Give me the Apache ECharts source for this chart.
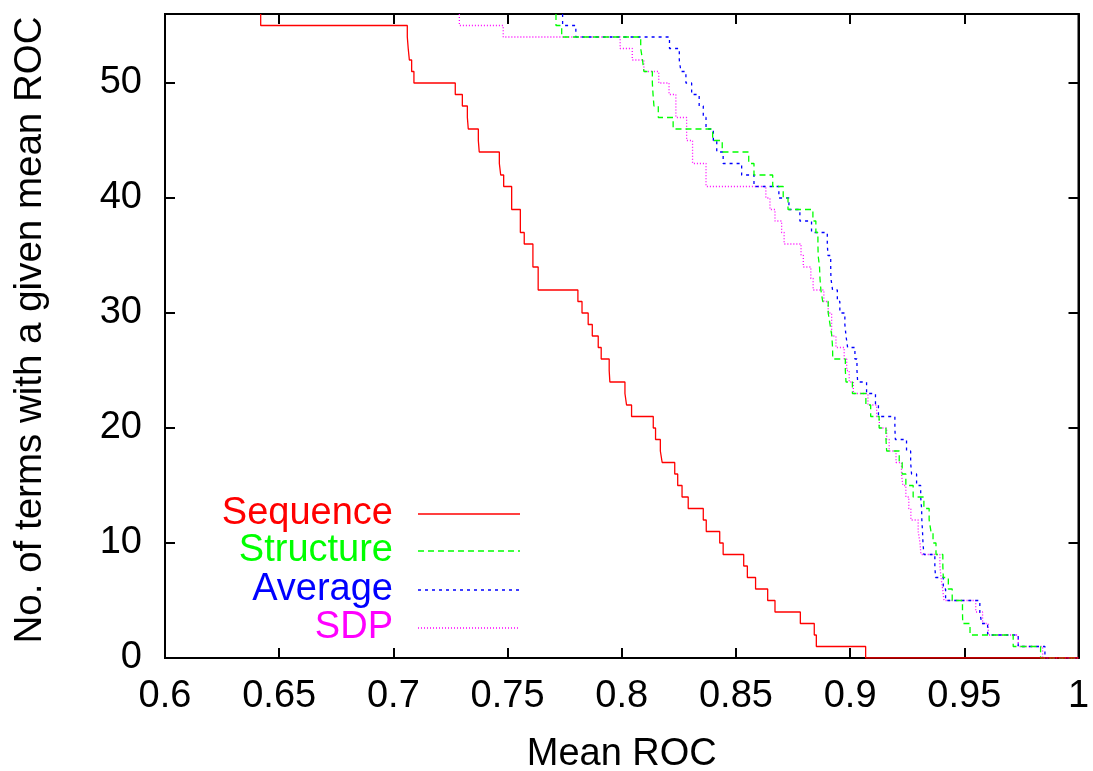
<!DOCTYPE html>
<html>
<head>
<meta charset="utf-8">
<script src="https://cdn.jsdelivr.net/npm/echarts@6/dist/echarts.min.js"></script>
<style>
html,body{margin:0;padding:0;background:#fff;}
#chart{width:1093px;height:771px;}
</style>
</head>
<body>
<div id="chart"></div>
<script>
// Tick labels
const xTicks = [0.6, 0.65, 0.7, 0.75, 0.8, 0.85, 0.9, 0.95, 1];
const yTicks = [0, 10, 20, 30, 40, 50];

// Series names
const seriesNames = ['Sequence', 'Structure', 'Average', 'SDP'];

// Sequence: mean ROC threshold and number of terms
const seqX = [0.6419, 0.6419, 0.7061, 0.7065, 0.7070, 0.7080, 0.7090, 0.7271, 0.7302, 0.7324, 0.7328, 0.7372, 0.7376, 0.7464, 0.7470, 0.7483, 0.7518, 0.7556, 0.7573, 0.7611, 0.7634, 0.7808, 0.7826, 0.7853, 0.7871, 0.7897, 0.7910, 0.7945, 0.7948, 0.8014, 0.8021, 0.8043, 0.8138, 0.8148, 0.8169, 0.8177, 0.8232, 0.8245, 0.8264, 0.8291, 0.8357, 0.8370, 0.8429, 0.8444, 0.8534, 0.8550, 0.8586, 0.8639, 0.8671, 0.8782, 0.8843, 0.8852, 0.9068, 1.0];
const seqY = [56, 55, 54, 53, 52, 51, 50, 49, 48, 47, 46, 45, 44, 43, 42, 41, 39, 37, 36, 34, 32, 31, 30, 29, 28, 27, 26, 25, 24, 23, 22, 21, 20, 19, 18, 17, 16, 15, 14, 13, 12, 11, 10, 9, 8, 7, 6, 5, 4, 3, 2, 1, 0, 0];

// Structure
const strX = [0.7712, 0.7712, 0.7737, 0.8083, 0.8091, 0.8097, 0.8134, 0.8137, 0.8141, 0.8160, 0.8225, 0.8398, 0.8440, 0.8556, 0.8579, 0.8661, 0.8707, 0.8728, 0.8837, 0.8850, 0.8859, 0.8860, 0.8866, 0.8868, 0.8872, 0.8880, 0.8904, 0.8912, 0.8920, 0.8923, 0.8924, 0.8979, 0.8982, 0.9010, 0.9069, 0.9090, 0.9127, 0.9157, 0.9160, 0.9215, 0.9228, 0.9244, 0.9276, 0.9323, 0.9346, 0.9354, 0.9363, 0.9376, 0.9406, 0.9408, 0.9430, 0.9447, 0.9492, 0.9493, 0.9525, 0.9714, 0.9834, 1.0];
const strY = [56, 55, 54, 53, 52, 51, 50, 49, 48, 47, 46, 45, 44, 43, 42, 41, 40, 39, 38, 37, 36, 35, 34, 33, 32, 31, 30, 29, 28, 27, 26, 25, 24, 23, 22, 21, 20, 19, 18, 17, 16, 15, 14, 13, 12, 11, 10, 9, 8, 7, 6, 5, 4, 3, 2, 1, 0, 0];

// Average
const avgX = [0.7741, 0.7741, 0.7799, 0.8209, 0.8252, 0.8259, 0.8281, 0.8306, 0.8339, 0.8357, 0.8369, 0.8401, 0.8416, 0.8444, 0.8525, 0.8579, 0.8688, 0.8732, 0.8780, 0.8831, 0.8900, 0.8903, 0.8915, 0.8916, 0.8923, 0.8944, 0.8955, 0.8977, 0.8982, 0.8989, 0.9021, 0.9030, 0.9033, 0.9072, 0.9111, 0.9124, 0.9196, 0.9198, 0.9247, 0.9265, 0.9269, 0.9291, 0.9309, 0.9313, 0.9314, 0.9317, 0.9319, 0.9323, 0.9371, 0.9374, 0.9408, 0.9418, 0.9568, 0.9576, 0.9602, 0.9736, 0.9853, 1.0];
const avgY = [56, 55, 54, 53, 52, 51, 50, 49, 48, 47, 46, 45, 44, 43, 42, 41, 40, 39, 38, 37, 36, 35, 34, 33, 32, 31, 30, 29, 28, 27, 26, 25, 24, 23, 22, 21, 20, 19, 18, 17, 16, 15, 14, 13, 12, 11, 10, 9, 8, 7, 6, 5, 4, 3, 2, 1, 0, 0];

// SDP
const sdpX = [0.7289, 0.7289, 0.7481, 0.7993, 0.8046, 0.8097, 0.8162, 0.8207, 0.8237, 0.8284, 0.8310, 0.8369, 0.8631, 0.8649, 0.8671, 0.8700, 0.8711, 0.8785, 0.8795, 0.8828, 0.8838, 0.8885, 0.8904, 0.8919, 0.8938, 0.8974, 0.8985, 0.8996, 0.9014, 0.9078, 0.9116, 0.9128, 0.9160, 0.9171, 0.9201, 0.9225, 0.9231, 0.9244, 0.9257, 0.9266, 0.9298, 0.9306, 0.9310, 0.9393, 0.9398, 0.9405, 0.9411, 0.9550, 0.9580, 0.9605, 0.9736, 0.9843, 1.0];
const sdpY = [56, 55, 54, 53, 52, 51, 50, 49, 47, 45, 43, 41, 40, 39, 38, 37, 36, 35, 34, 33, 32, 31, 30, 28, 27, 26, 25, 24, 23, 22, 21, 20, 19, 18, 17, 16, 15, 14, 13, 12, 11, 10, 9, 8, 7, 6, 5, 4, 3, 2, 1, 0, 0];

const colors = ['#ff0000', '#00ff00', '#0000ff', '#ff00ff'];
const dashes = ['solid', [6, 4], [3, 4], [1, 2]];
const xs = [seqX, strX, avgX, sdpX];
const ys = [seqY, strY, avgY, sdpY];

const FONT = 'Liberation Sans, Arial, Helvetica, sans-serif';
const FS = 38;
const FS_YNAME = 38.5;

const chart = echarts.init(document.getElementById('chart'), null, {renderer: 'canvas'});

const axisLine = {show: true, onZero: false, lineStyle: {color: '#000', width: 2}};
const axisTick = {show: true, inside: true, length: 10, lineStyle: {color: '#000', width: 2}};

const series = seriesNames.map((name, k) => ({
  name: name,
  type: 'line',
  step: 'end',
  showSymbol: false,
  symbol: 'none',
  clip: true,
  data: xs[k].map((x, i) => [x, ys[k][i]]),
  lineStyle: {color: colors[k], width: 1.3, type: dashes[k]},
  itemStyle: {color: colors[k]},
  z: 3 + (seriesNames.length - k)
}));

const legendTop = [514, 551, 590, 628];
const graphics = [];
seriesNames.forEach((name, k) => {
  graphics.push({
    type: 'text', x: 393, y: legendTop[k],
    style: {text: name, fill: colors[k], font: FS + 'px ' + FONT, textAlign: 'right', textVerticalAlign: 'middle'}
  });
  graphics.push({
    type: 'line', shape: {x1: 418, y1: legendTop[k], x2: 520, y2: legendTop[k]},
    style: {stroke: colors[k], lineWidth: 1.3, lineDash: dashes[k] === 'solid' ? null : dashes[k]}
  });
});

chart.setOption({
  animation: false,
  backgroundColor: '#fff',
  grid: {left: 165, right: 14.5, top: 14, bottom: 113, containLabel: false, outerBoundsMode: 'none',
    show: true, borderColor: '#000', borderWidth: 2, backgroundColor: 'transparent'},
  xAxis: [{
    type: 'value', min: xTicks[0], max: xTicks[xTicks.length - 1], interval: 0.05,
    position: 'bottom',
    name: 'Mean ROC', nameLocation: 'middle', nameGap: 78,
    nameTextStyle: {fontFamily: FONT, fontSize: FS, color: '#000'},
    axisLine: axisLine, axisTick: axisTick, splitLine: {show: false},
    axisLabel: {fontFamily: FONT, fontSize: FS, color: '#000', margin: 20,
      formatter: v => { const t = xTicks.find(a => Math.abs(a - v) < 1e-9); return t === undefined ? '' : String(t); }}
  }, {
    type: 'value', min: xTicks[0], max: xTicks[xTicks.length - 1], interval: 0.05,
    position: 'top', axisLine: axisLine, axisTick: axisTick, splitLine: {show: false},
    axisLabel: {show: false}
  }],
  yAxis: [{
    type: 'value', min: 0, max: 56, interval: 10, position: 'left',
    name: 'No. of terms with a given mean ROC', nameLocation: 'middle', nameGap: 115, nameRotate: 90,
    nameTextStyle: {fontFamily: FONT, fontSize: FS_YNAME, color: '#000', padding: [0, 0, 0, 12]},
    axisLine: axisLine, axisTick: axisTick, splitLine: {show: false},
    axisLabel: {fontFamily: FONT, fontSize: FS, color: '#000', margin: 23, showMaxLabel: false,
      formatter: v => yTicks.indexOf(v) >= 0 ? String(v) : ''}
  }, {
    type: 'value', min: 0, max: 56, interval: 10, position: 'right',
    axisLine: axisLine, axisTick: axisTick, splitLine: {show: false},
    axisLabel: {show: false}
  }],
  series: series,
  graphic: graphics
});
</script>
</body>
</html>
